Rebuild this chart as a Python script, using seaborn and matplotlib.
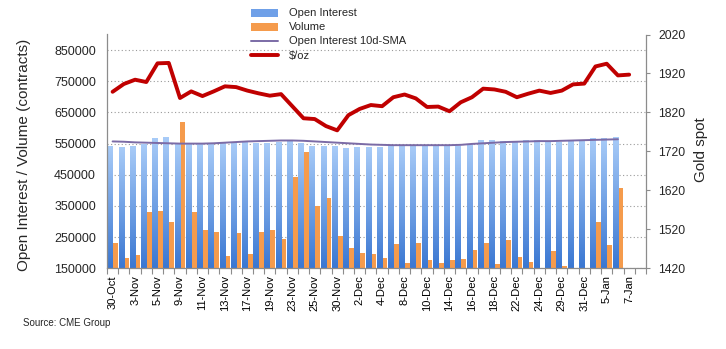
import numpy as np
import pandas as pd
import matplotlib
matplotlib.use("Agg")
import matplotlib.pyplot as plt
import seaborn as sns
from matplotlib.colors import LinearSegmentedColormap

categories = ["30-Oct", "2-Nov", "3-Nov", "4-Nov", "5-Nov", "6-Nov", "9-Nov", "10-Nov",
              "11-Nov", "12-Nov", "13-Nov", "16-Nov", "17-Nov", "18-Nov", "19-Nov", "20-Nov",
              "23-Nov", "24-Nov", "25-Nov", "27-Nov", "30-Nov", "1-Dec", "2-Dec", "3-Dec",
              "4-Dec", "7-Dec", "8-Dec", "9-Dec", "10-Dec", "11-Dec", "14-Dec", "15-Dec",
              "16-Dec", "17-Dec", "18-Dec", "21-Dec", "22-Dec", "23-Dec", "24-Dec", "28-Dec",
              "29-Dec", "30-Dec", "31-Dec", "4-Jan", "5-Jan", "6-Jan", "7-Jan", "8-Jan"]
tick_labels = categories[::2]

open_interest = [543000, 539000, 543000, 550000, 569000, 572000, 553000, 550000, 550000, 551000,
                 552000, 553000, 554000, 553000, 553000, 554000, 562000, 553000, 543000, 543000,
                 541000, 536000, 539000, 539000, 539000, 543000, 543000, 543000, 543000, 543000,
                 543000, 543000, 549000, 562000, 562000, 559000, 555000, 562000, 560000, 554000,
                 554000, 557000, 557000, 568000, 568000, 571000]
volume = [232000, 184000, 194000, 329000, 335000, 297000, 618000, 332000, 273000, 267000,
          190000, 264000, 195000, 267000, 274000, 245000, 444000, 522000, 351000, 374000,
          255000, 216000, 200000, 195000, 184000, 229000, 166000, 232000, 177000, 168000,
          177000, 181000, 210000, 232000, 163000, 242000, 187000, 171000, 140000, 206000,
          158000, 140000, 140000, 300000, 226000, 408000]
oi_sma = [557000, 556000, 554000, 553000, 552000, 551000, 550000, 550000, 550000, 551000,
          553000, 555000, 557000, 558000, 559000, 560000, 560000, 559000, 557000, 555000,
          553000, 551000, 549000, 547000, 546000, 545000, 545000, 545000, 545000, 545000,
          545000, 546000, 549000, 551000, 553000, 555000, 556000, 557000, 558000, 558000,
          559000, 560000, 561000, 562000, 563000, 564000]
gold = [1873, 1893, 1904, 1898, 1946, 1947, 1857, 1874, 1862, 1874, 1887, 1885, 1876, 1869,
        1863, 1867, 1836, 1805, 1803, 1785, 1774, 1813, 1829, 1839, 1836, 1859, 1866, 1856,
        1834, 1835, 1823, 1846, 1859, 1881, 1879, 1873, 1859, 1868, 1876, 1870, 1876, 1892,
        1894, 1938, 1945, 1915, 1917]

series_names = ["Open Interest", "Volume"]
BLUE = "#6FA0E8"
ORANGE = "#F59B4C"
PURPLE = "#7B6BA6"
RED = "#C00000"
GREY = "#8c8c8c"

sns.set_theme(style="white")
plt.rcParams['font.family'] = ['Liberation Sans', 'DejaVu Sans']

fig = plt.figure(figsize=(7.26, 3.49), dpi=100)
ax = fig.add_axes([107 / 726, 1 - 268.3 / 349, (646 - 107) / 726, (268.3 - 34.5) / 349])

n = len(open_interest)
df = pd.DataFrame({
    "date": categories[:n] * 2,
    "series": [series_names[0]] * n + [series_names[1]] * n,
    "value": open_interest + volume,
})
sns.barplot(data=df, x="date", y="value", hue="series", order=categories,
            hue_order=series_names, palette={series_names[0]: BLUE, series_names[1]: ORANGE},
            width=0.95, saturation=1, errorbar=None, linewidth=0, ax=ax, legend=False,
            zorder=2)

ybot = 150000
cmap = LinearSegmentedColormap.from_list("oi", ["#3A77D2", "#A9CCF8"])
grad = np.linspace(0, 1, 256).reshape(-1, 1)
for patch in ax.containers[0]:
    x0 = patch.get_x()
    w = patch.get_width()
    h = patch.get_height()
    im = ax.imshow(grad, extent=(x0, x0 + w, ybot, h), origin='lower', aspect='auto',
                   cmap=cmap, zorder=2.1, interpolation='bilinear')
    im.set_clip_path(patch)

sns.lineplot(x=np.arange(len(oi_sma)), y=oi_sma, ax=ax, color=PURPLE, linewidth=1.4, zorder=3)

ax2 = ax.twinx()
sns.lineplot(x=np.arange(len(gold)), y=gold, ax=ax2, color=RED, linewidth=2.8)

ax.set_xlim(-0.5, len(categories) - 0.5)
ax.set_ylim(150000, 900000)
ax2.set_ylim(1420, 2020)

ax.set_xlabel("")
ax.set_ylabel("")
ax2.set_xlabel("")
ax2.set_ylabel("")

ax.set_xticks(np.arange(0, len(categories), 2))
ax.set_xticklabels(tick_labels, rotation=90, fontsize=8)
ax.set_xticks(np.arange(-0.5, len(categories) + 0.5, 1), minor=True)
ax.tick_params(axis='x', which='major', bottom=True, length=0, pad=5, colors='black')
ax.tick_params(axis='x', which='minor', bottom=True, length=4, width=0.8, color=GREY, direction='out')
ax.set_yticks(np.arange(150000, 850001, 100000))
ax.set_yticklabels([str(v) for v in range(150000, 850001, 100000)])
ax.tick_params(axis='y', left=False, length=0, pad=8, labelsize=9)
ax.yaxis.grid(True, linestyle=(0, (1, 2.2)), color='#9a9a9a', linewidth=0.8)
ax.xaxis.grid(False)
ax.set_axisbelow(True)

ax2.set_yticks(np.arange(1420, 2021, 100))
ax2.tick_params(axis='y', right=True, length=3, width=0.8, color=GREY, pad=6, labelsize=8.8)
ax2.grid(False)

for a in (ax, ax2):
    a.spines['top'].set_visible(False)
ax.spines['right'].set_visible(False)
ax2.spines['left'].set_visible(False)
ax2.spines['bottom'].set_visible(False)
ax.spines['left'].set_color(GREY)
ax.spines['bottom'].set_color(GREY)
ax2.spines['right'].set_color(GREY)
for s in (ax.spines['left'], ax.spines['bottom'], ax2.spines['right']):
    s.set_linewidth(0.9)

if ax2.get_legend() is not None:
    ax2.get_legend().remove()
if ax.get_legend() is not None:
    ax.get_legend().remove()

handles = [ax.containers[0], ax.containers[1], ax.lines[0], ax2.lines[0]]
labels = ["Open Interest", "Volume", "Open Interest 10d-SMA", r"\$/oz"]
fig.legend(handles, labels, loc='upper left', bbox_to_anchor=(251 / 726, 1 - 8.5 / 349),
           frameon=False, fontsize=8, handlelength=2.4, handletextpad=1.0,
           labelspacing=0.36, borderpad=0, borderaxespad=0)

fig.text(24 / 726, 1 - 155 / 349, "Open Interest / Volume (contracts)", rotation=90,
         ha='center', va='center', fontsize=11)
fig.text(701 / 726, 1 - 150 / 349, "Gold spot", rotation=90, ha='center', va='center', fontsize=11)
fig.text(23 / 726, 1 - 323 / 349, "Source: CME Group", ha='left', va='center', fontsize=7)

fig.savefig("out.png", dpi=100)
